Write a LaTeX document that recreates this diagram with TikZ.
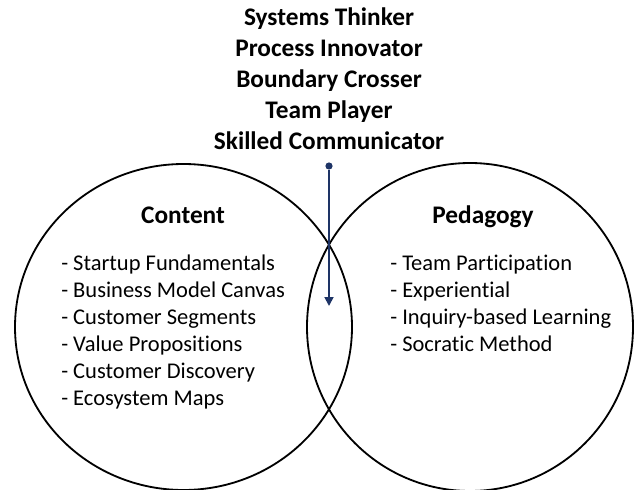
\documentclass[tikz,border=0pt]{standalone}
\usepackage{fontspec}
\setmainfont{Carlito}[Ligatures=NoCommon]
\usepackage{tikz}
\usetikzlibrary{arrows.meta}
\definecolor{navy}{RGB}{30,52,102}
\tikzset{circ/.style={draw, line width=1.3pt},
         head/.style={font=\fontsize{18}{22.2}\selectfont\bfseries, inner sep=0pt},
         items/.style={font=\fontsize{16}{19.2}\selectfont, align=left, inner sep=0pt, anchor=north west},
         pin/.style={circle, fill=navy, inner sep=0pt, minimum size=#1},
         pin/.default={0.18cm}}

\begin{document}
\begin{tikzpicture}
    \useasboundingbox (0,0) rectangle (15.9,12.225);

    \node[head, align=center, anchor=north] (roles) at (8.225,12.05)
      {Systems Thinker\\ Process Innovator\\ Boundary Crosser\\ Team Player\\ Skilled Communicator};

    \begin{scope}
      \clip (0,0) rectangle (15.9,12.225);
      \draw[circ] (4.5875,4.05) ellipse[x radius=4.2125, y radius=4.075];
      \draw[circ] (11.75,4.05) ellipse[x radius=4.075, y radius=4.1];
    \end{scope}

    \node[head, anchor=base] (content) at (4.575,6.64) {Content};
    \node[head, anchor=base] (pedagogy) at (12.075,6.64) {Pedagogy};

    \node[items] (contentlist) at (1.525,5.86)
      {- Startup Fundamentals\\ - Business Model Canvas\\ - Customer Segments\\
       - Value Propositions\\ - Customer Discovery\\ - Ecosystem Maps};
    \node[items] (pedagogylist) at (9.75,5.86)
      {- Team Participation\\ - Experiential\\ - Inquiry-based Learning\\ - Socratic Method};

    \node[pin] (start) at (8.225,8.075) {};
    \coordinate (tip) at (8.225,4.575);
    \draw[navy, line width=1.3pt, -{Triangle[width=0.22cm, length=0.22cm]}] (start) -- (tip);
\end{tikzpicture}
\end{document}
